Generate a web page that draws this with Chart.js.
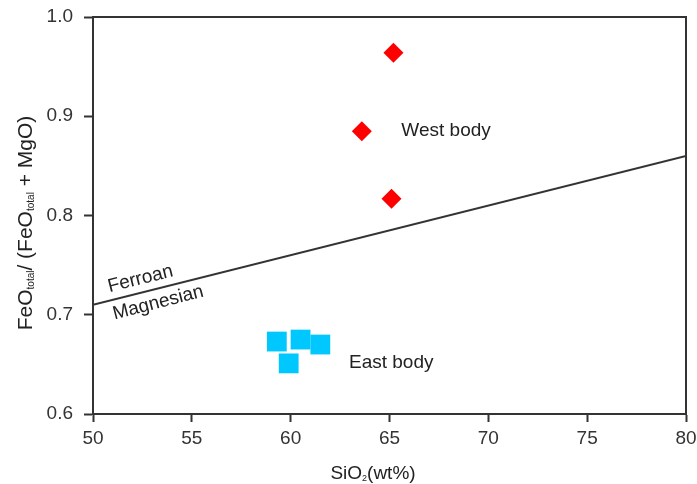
<!DOCTYPE html>
<html>
<head>
<meta charset="utf-8">
<script src="https://cdn.jsdelivr.net/npm/chart.js@4"></script>
<style>
  html, body { margin: 0; padding: 0; background: #fff; }
  #wrap { width: 697px; height: 484px; }
</style>
</head>
<body>
<div id="wrap"><canvas id="chart" width="697" height="484"></canvas></div>
<script>
// values
const westSiO2 = [65.2, 63.6, 65.1];
const westRatio = [0.964, 0.885, 0.817];
const eastSiO2 = [59.3, 60.5, 61.5, 59.9];
const eastRatio = [0.673, 0.675, 0.670, 0.651];
const boundarySiO2 = [50, 80];
const boundaryRatio = [0.71, 0.86];
const xTicks = [50, 55, 60, 65, 70, 75, 80];
const yTicks = [0.6, 0.7, 0.8, 0.9, 1.0];

const ink = '#333';
const font = 'Arial, "Liberation Sans", sans-serif';

const toPoints = (xs, ys) => xs.map((x, i) => ({ x: x, y: ys[i] }));

// text labels placed in data coordinates
const labels = [
  { text: 'West body', x: 65.6, y: 0.885, align: 'left', rot: 0 },
  { text: 'East body', x: 62.95, y: 0.652, align: 'left', rot: 0 },
  { text: 'Ferroan', x: 52.4, y: 0.736, align: 'center', rot: -14 },
  { text: 'Magnesian', x: 53.3, y: 0.712, align: 'center', rot: -14.5 }
];

const textPlugin = {
  id: 'texts',
  afterDraw(chart) {
    const ctx = chart.ctx;
    const xs = chart.scales.x, ys = chart.scales.y;
    const area = chart.chartArea;
    ctx.save();

    // top and right frame
    ctx.strokeStyle = ink;
    ctx.lineWidth = 2;
    ctx.beginPath();
    ctx.moveTo(area.left, area.top);
    ctx.lineTo(area.right, area.top);
    ctx.lineTo(area.right, area.bottom);
    ctx.stroke();

    ctx.fillStyle = '#222';
    ctx.textBaseline = 'middle';
    ctx.font = '19px ' + font;
    labels.forEach(l => {
      ctx.save();
      ctx.translate(xs.getPixelForValue(l.x), ys.getPixelForValue(l.y));
      ctx.rotate(l.rot * Math.PI / 180);
      ctx.textAlign = l.align;
      ctx.fillText(l.text, 0, 0);
      ctx.restore();
    });

    // axis titles with subscripts
    const drawParts = (parts, cx, cy) => {
      let w = 0;
      parts.forEach(p => { ctx.font = p.size + 'px ' + font; w += ctx.measureText(p.t).width; });
      let x = cx - w / 2;
      ctx.textAlign = 'left';
      ctx.textBaseline = 'alphabetic';
      parts.forEach(p => {
        ctx.font = p.size + 'px ' + font;
        ctx.fillText(p.t, x, cy + (p.sub ? 2 : 0));
        x += ctx.measureText(p.t).width;
      });
    };
    drawParts([
      { t: 'SiO', size: 19 }, { t: '2', size: 9, sub: true }, { t: '(wt%)', size: 19 }
    ], 373, 479);

    ctx.save();
    ctx.translate(32, 223);
    ctx.rotate(-Math.PI / 2);
    drawParts([
      { t: 'FeO', size: 21 }, { t: 'total', size: 10, sub: true }, { t: '/ (FeO', size: 21 },
      { t: 'total', size: 10, sub: true }, { t: ' + MgO)', size: 21 }
    ], 0, 0);
    ctx.restore();
    ctx.restore();
  }
};

new Chart(document.getElementById('chart'), {
  type: 'scatter',
  data: {
    datasets: [
      {
        label: 'Boundary',
        data: toPoints(boundarySiO2, boundaryRatio),
        showLine: true,
        borderColor: ink,
        borderWidth: 2,
        pointRadius: 0
      },
      {
        label: 'West body',
        data: toPoints(westSiO2, westRatio),
        pointStyle: 'rectRot',
        pointRadius: 10,
        backgroundColor: '#ff0000',
        borderColor: '#ff0000',
        borderWidth: 0
      },
      {
        label: 'East body',
        data: toPoints(eastSiO2, eastRatio),
        pointStyle: 'rect',
        pointRadius: 14,
        backgroundColor: '#00c8ff',
        borderColor: '#00c8ff',
        borderWidth: 0
      }
    ]
  },
  options: {
    responsive: false,
    animation: false,
    layout: { autoPadding: false, padding: { top: 17, right: 11, left: 0, bottom: 0 } },
    plugins: { legend: { display: false }, tooltip: { enabled: false } },
    scales: {
      x: {
        type: 'linear',
        min: 50, max: 80,
        afterBuildTicks: s => { s.ticks = xTicks.map(v => ({ value: v })); },
        afterFit: s => { s.height = 70; s.paddingLeft = 0; s.paddingRight = 0; },
        grid: { drawOnChartArea: false, tickLength: 8, tickWidth: 2, color: ink },
        border: { color: ink, width: 2 },
        ticks: { color: '#333', font: { size: 19, family: font }, padding: 5 }
      },
      y: {
        type: 'linear',
        min: 0.6, max: 1.0,
        afterBuildTicks: s => { s.ticks = yTicks.map(v => ({ value: v })); },
        afterFit: s => { s.width = 93; s.paddingTop = 0; s.paddingBottom = 0; },
        grid: { drawOnChartArea: false, tickLength: 9, tickWidth: 2, color: ink },
        border: { color: ink, width: 2 },
        ticks: { color: '#333', font: { size: 19, family: font }, padding: 11, callback: v => v.toFixed(1) }
      }
    }
  },
  plugins: [textPlugin]
});
</script>
</body>
</html>
